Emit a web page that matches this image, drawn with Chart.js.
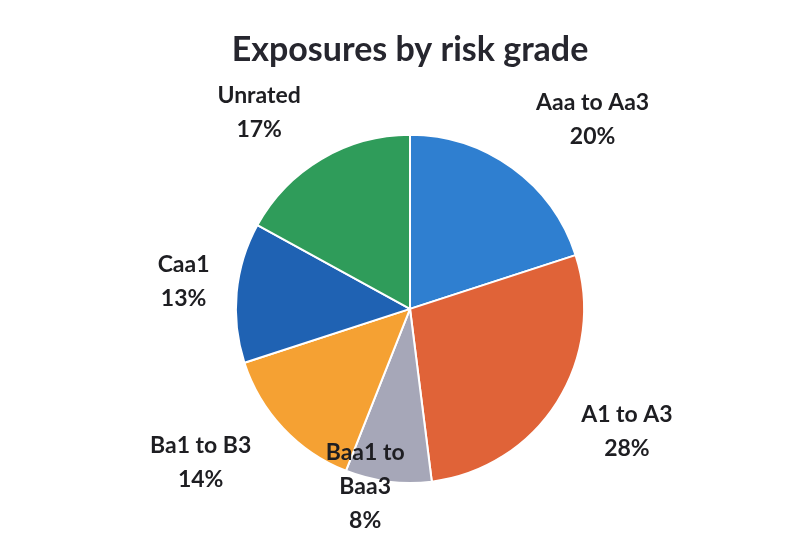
<!DOCTYPE html>
<html>
<head>
<meta charset="utf-8">
<script src="https://cdn.jsdelivr.net/npm/chart.js@4/dist/chart.umd.min.js"></script>
<style>
  html, body { margin:0; padding:0; background:#fff; }
  #wrap { width:800px; height:539px; }
</style>
</head>
<body>
<div id="wrap"><canvas id="chart" width="800" height="539"></canvas></div>
<script>
// data
const grades = ['Aaa to Aa3', 'A1 to A3', 'Baa1 to Baa3', 'Ba1 to B3', 'Caa1', 'Unrated'];
const shares = [20, 28, 8, 14, 13, 17];
const labelLines = [
  ['Aaa to Aa3', '20%'],
  ['A1 to A3', '28%'],
  ['Baa1 to', 'Baa3', '8%'],
  ['Ba1 to B3', '14%'],
  ['Caa1', '13%'],
  ['Unrated', '17%']
];
const colors = ['#2f7fd0', '#e06338', '#a6a7b8', '#f5a133', '#1f62b3', '#2f9c5a'];

// where each label sits: [distance as multiple of radius, angle tweak in degrees]
const labelPlace = [[1.51, 8], [1.43, -3], [1.05, 7], [1.49, 7], [1.31, 1.5], [1.42, -7]];

const outsideLabels = {
  id: 'outsideLabels',
  afterDatasetsDraw(chart){
    const ctx = chart.ctx;
    const meta = chart.getDatasetMeta(0);
    ctx.save();
    ctx.font = 'bold 23px Lato, "Open Sans", sans-serif';
    ctx.fillStyle = '#1e1e22';
    ctx.textAlign = 'center';
    ctx.textBaseline = 'middle';
    meta.data.forEach((arc, i) => {
      const p = arc.getProps(['x','y','startAngle','endAngle','outerRadius'], true);
      const mid = (p.startAngle + p.endAngle) / 2 + labelPlace[i][1] * Math.PI / 180;
      const r = p.outerRadius * labelPlace[i][0];
      const cx = p.x + Math.cos(mid) * r;
      const cy = p.y + Math.sin(mid) * r;
      const lines = labelLines[i];
      const lh = 34;
      const top = cy - (lines.length - 1) * lh / 2;
      lines.forEach((t, k) => ctx.fillText(t, cx, top + k * lh));
    });
    ctx.restore();
  }
};

new Chart(document.getElementById('chart').getContext('2d'), {
  type: 'pie',
  data: {
    labels: grades,
    datasets: [{
      data: shares,
      backgroundColor: colors,
      borderColor: '#fff',
      borderWidth: 2
    }]
  },
  options: {
    responsive: false,
    animation: false,
    layout: { padding: { left: 40, right: 20, top: 0, bottom: 55 } },
    plugins: {
      legend: { display: false },
      tooltip: { enabled: false },
      title: {
        display: true,
        text: 'Exposures by risk grade',
        color: '#26262e',
        font: { family: 'Lato, "Open Sans", sans-serif', size: 34, weight: 'bold', lineHeight: 1.2 },
        padding: { top: 30, bottom: 63 }
      }
    }
  },
  plugins: [outsideLabels]
});
</script>
</body>
</html>
